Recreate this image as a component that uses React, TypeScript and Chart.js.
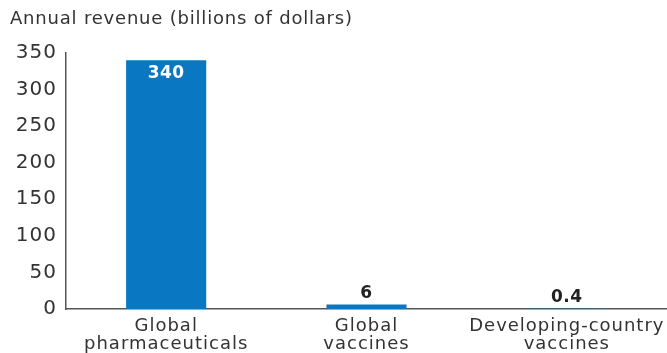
import React, { useEffect, useRef } from "react";
import { Chart, registerables } from "chart.js";

Chart.register(...registerables);

const categories: string[][] = [
  ["Global", "pharmaceuticals"],
  ["Global", "vaccines"],
  ["Developing-country", "vaccines"],
];
const revenue: number[] = [340, 6, 0.4];
const valueLabels: string[] = ["340", "6", "0.4"];
const yTicks: number[] = [0, 50, 100, 150, 200, 250, 300, 350];
const titleText = "Annual revenue (billions of dollars)";

const BAR = "#0a77c2";
const TEXT = "#333333";
const FONT = "'DejaVu Sans', sans-serif";

const valuePlugin = {
  id: "valueLabels",
  afterDatasetsDraw(chart: any) {
    const ctx = chart.ctx;
    const meta = chart.getDatasetMeta(0);
    ctx.save();
    (ctx as any).letterSpacing = "0.5px";
    ctx.font = `bold 17px ${FONT}`;
    ctx.textAlign = "center";
    ctx.textBaseline = "middle";
    meta.data.forEach((bar: any, i: number) => {
      const v = revenue[i];
      if (v > 100) {
        ctx.fillStyle = "#ffffff";
        ctx.fillText(valueLabels[i], bar.x, bar.y + 13);
      } else {
        ctx.fillStyle = "#222222";
        ctx.fillText(valueLabels[i], bar.x, bar.y - 11);
      }
    });
    ctx.restore();
  },
};

const titlePlugin = {
  id: "topTitle",
  afterDraw(chart: any) {
    const ctx = chart.ctx;
    ctx.save();
    ctx.font = `18px ${FONT}`;
    (ctx as any).letterSpacing = "0.8px";
    ctx.fillStyle = TEXT;
    ctx.textAlign = "left";
    ctx.textBaseline = "middle";
    ctx.fillText(titleText, 10, 19);
    ctx.restore();
  },
};

function patchLabels(s: any, spacing: string) {
  if (s.__patched) return;
  s.__patched = true;
  const orig = s.drawLabels.bind(s);
  s.drawLabels = (area: any) => {
    s.ctx.save();
    s.ctx.letterSpacing = spacing;
    orig(area);
    s.ctx.restore();
  };
}

export default function App() {
  const ref = useRef<HTMLCanvasElement | null>(null);
  useEffect(() => {
    if (!ref.current) return;
    const chart = new Chart(ref.current, {
      type: "bar",
      data: {
        labels: categories,
        datasets: [
          {
            data: revenue,
            backgroundColor: BAR,
            barPercentage: 0.4,
            categoryPercentage: 1,
          },
        ],
      },
      options: {
        animation: false,
        responsive: true,
        maintainAspectRatio: false,
        layout: { padding: { top: 53, left: 0, right: 0, bottom: 0 } },
        plugins: {
          legend: { display: false },
          tooltip: { enabled: false },
          title: { display: false },
        },
        scales: {
          x: {
            grid: { display: false, drawTicks: false },
            border: { display: true, color: "#555555", width: 1.5 },
            ticks: {
              color: TEXT,
              font: { family: FONT, size: 18, lineHeight: 1 },
              padding: 8,
              maxRotation: 0,
              autoSkip: false,
            },
            afterFit: (s: any) => {
              s.height = 44;
              patchLabels(s, "1px");
            },
          },
          y: {
            min: 0,
            max: 350,
            afterBuildTicks: (s: any) => {
              s.ticks = yTicks.map((v) => ({ value: v }));
            },
            grid: { display: false, drawTicks: false },
            border: { display: true, color: "#555555", width: 1.5 },
            ticks: {
              color: TEXT,
              font: { family: FONT, size: 20 },
              padding: 9,
            },
            afterFit: (s: any) => {
              s.width = 66;
              patchLabels(s, "1px");
            },
          },
        },
      },
      plugins: [valuePlugin, titlePlugin],
    });
    return () => chart.destroy();
  }, []);
  return (
    <div style={{ position: "fixed", left: 0, top: 0, width: 667, height: 353, background: "#fff" }}>
      <canvas ref={ref} />
    </div>
  );
}
